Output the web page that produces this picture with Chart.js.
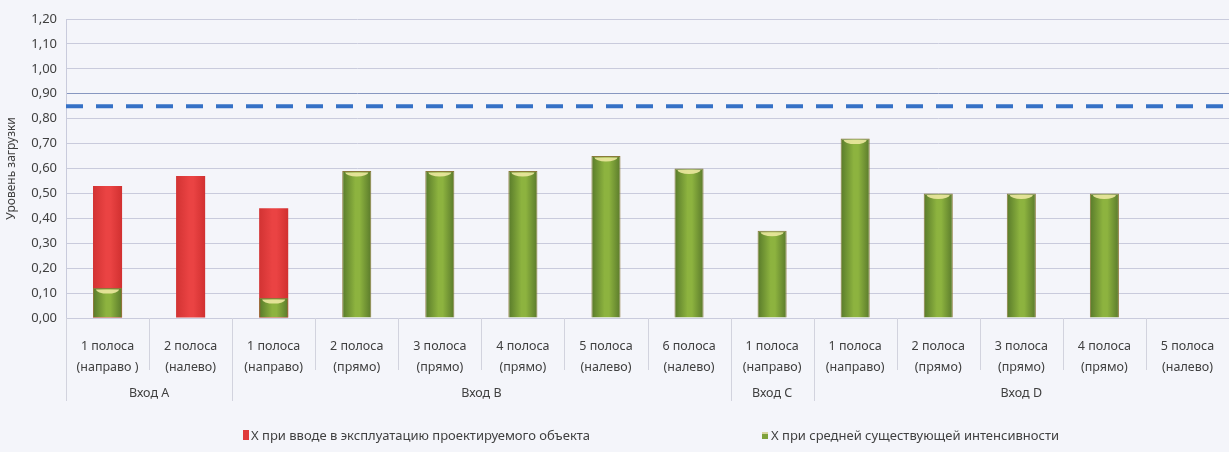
<!DOCTYPE html>
<html>
<head>
<meta charset="utf-8">
<script src="https://cdn.jsdelivr.net/npm/chart.js@4"></script>
<style>
  html, body { margin: 0; padding: 0; background: #f4f5fa; }
  #wrap { width: 1229px; height: 452px; position: relative; }
</style>
</head>
<body>
<div id="wrap"><canvas id="grafico"></canvas></div>
<script>
// полосы по входам
const polosy = [
  ['1 полоса', '(направо )'], ['2 полоса', '(налево)'], ['1 полоса', '(направо)'],
  ['2 полоса', '(прямо)'], ['3 полоса', '(прямо)'], ['4 полоса', '(прямо)'],
  ['5 полоса', '(налево)'], ['6 полоса', '(налево)'], ['1 полоса', '(направо)'],
  ['1 полоса', '(направо)'], ['2 полоса', '(прямо)'], ['3 полоса', '(прямо)'],
  ['4 полоса', '(прямо)'], ['5 полоса', '(налево)']
];
// входы: название, первая полоса, число полос
const vhody = [['Вход А', 0, 2], ['Вход В', 2, 6], ['Вход С', 8, 1], ['Вход D', 9, 5]];

const nazvanieVvod = 'Х при вводе в эксплуатацию проектируемого объекта';
const nazvanieSred = 'Х при средней существующей интенсивности';
const xVvod = [0.53, 0.57, 0.44, null, null, null, null, null, null, null, null, null, null, null];
const xSred = [0.12, null, 0.08, 0.59, 0.59, 0.59, 0.65, 0.60, 0.35, 0.72, 0.50, 0.50, 0.50, null];
const porog = 0.85;   // пунктир
const predel = 0.90;  // сплошная линия

const yMax = 1.2;
const yShag = 0.1;
const shirina = 0.35;
const tekst = '#404040';
const setka = '#c9cbdc';
const shrift = '"Noto Sans", sans-serif';

function zalivka(ctx, cveta, zapas) {
  const chart = ctx.chart;
  if (!chart.chartArea || ctx.dataIndex === undefined) return cveta[1];
  const xs = chart.scales.x;
  const c = xs.getPixelForValue(ctx.dataIndex);
  const w = xs.width / polosy.length * shirina;
  const g = chart.ctx.createLinearGradient(c - w / 2, 0, c + w / 2, 0);
  g.addColorStop(0, cveta[0]);
  g.addColorStop(0.45, cveta[1]);
  g.addColorStop(0.6, cveta[1]);
  g.addColorStop(1, cveta[2]);
  return g;
}

const dorisovka = {
  id: 'dorisovka',
  afterDatasetsDraw(chart) {
    const ctx = chart.ctx;
    const area = chart.chartArea;
    const xs = chart.scales.x;
    const ys = chart.scales.y;

    // светлые торцы зелёных столбиков
    const meta = chart.getDatasetMeta(1);
    meta.data.forEach((el, i) => {
      if (xSred[i] == null) return;
      ctx.save();
      ctx.fillStyle = 'rgba(236, 232, 160, 0.9)';
      ctx.beginPath();
      ctx.ellipse(el.x, el.y + 1.5, el.width / 2 - 3, 4, 0, 0, Math.PI);
      ctx.fill();
      ctx.restore();
    });

    // пунктир на уровне 0,85
    const yp = ys.getPixelForValue(porog);
    ctx.save();
    ctx.strokeStyle = '#3571c6';
    ctx.lineWidth = 4;
    ctx.setLineDash([17, 13]);
    ctx.beginPath();
    ctx.moveTo(area.left, yp);
    ctx.lineTo(area.right, yp);
    ctx.stroke();
    ctx.restore();
  },
  afterDraw(chart) {
    const ctx = chart.ctx;
    const xs = chart.scales.x;
    const step = xs.width / polosy.length;
    const niz = xs.top;

    ctx.save();
    ctx.strokeStyle = '#d2d3de';
    ctx.lineWidth = 1;
    // короткие разделители полос
    for (let i = 0; i <= polosy.length; i++) {
      const x = Math.round(xs.left + i * step) + 0.5;
      ctx.beginPath();
      ctx.moveTo(x, niz);
      ctx.lineTo(x, niz + 52);
      ctx.stroke();
    }
    // длинные разделители входов и подписи
    ctx.fillStyle = tekst;
    ctx.font = '12.5px ' + shrift;
    ctx.textAlign = 'center';
    ctx.textBaseline = 'middle';
    vhody.forEach(([name, start, n]) => {
      [start, start + n].forEach(k => {
        const x = Math.round(xs.left + k * step) + 0.5;
        ctx.beginPath();
        ctx.moveTo(x, niz);
        ctx.lineTo(x, niz + 83);
        ctx.stroke();
      });
      ctx.fillText(name, xs.left + (start + n / 2) * step, niz + 75);
    });

    // легенда
    ctx.font = '13px ' + shrift;
    ctx.textAlign = 'left';
    ctx.fillStyle = '#e03a3a';
    ctx.fillRect(243, 430, 6, 10);
    ctx.fillStyle = tekst;
    ctx.fillText(nazvanieVvod, 251, 436);

    ctx.fillStyle = '#7fa23a';
    ctx.fillRect(762, 432, 6, 7);
    ctx.fillStyle = '#d8d6a0';
    ctx.fillRect(762, 432, 6, 2);
    ctx.fillStyle = tekst;
    ctx.fillText(nazvanieSred, 771, 436);
    ctx.restore();
  }
};

new Chart(document.getElementById('grafico'), {
  type: 'bar',
  data: {
    labels: polosy,
    datasets: [
      {
        label: nazvanieVvod,
        data: xVvod,
        order: 2,
        backgroundColor: ctx => zalivka(ctx, ['#d23333', '#ea4343', '#d13030']),
        borderWidth: 0
      },
      {
        label: nazvanieSred,
        data: xSred,
        order: 1,
        backgroundColor: ctx => zalivka(ctx, ['#587a2a', '#8db33f', '#5a7a2b']),
        borderColor: '#8a7a3a',
        borderWidth: 1
      }
    ]
  },
  options: {
    responsive: true,
    maintainAspectRatio: false,
    animation: false,
    barPercentage: 1,
    categoryPercentage: shirina,
    layout: { padding: { top: 19, right: 0, left: 0, bottom: 0 } },
    plugins: {
      legend: { display: false },
      tooltip: { enabled: false }
    },
    scales: {
      x: {
        stacked: true,
        grid: { display: false },
        border: { display: true, color: setka },
        ticks: {
          autoSkip: false,
          maxRotation: 0,
          padding: 10,
          color: tekst,
          font: { family: shrift, size: 12.5, lineHeight: '21px' }
        },
        afterFit(scale) { scale.height = 134; }
      },
      y: {
        stacked: false,
        min: 0,
        max: yMax,
        border: { display: true, color: setka },
        grid: {
          color: c => Math.abs(c.tick.value - predel) < 1e-6 ? '#8797c0' : setka,
          drawTicks: false
        },
        ticks: {
          stepSize: yShag,
          padding: 9,
          color: tekst,
          font: { family: shrift, size: 13 },
          callback: v => v.toFixed(2).replace('.', ',')
        },
        title: {
          display: true,
          text: 'Уровень загрузки',
          color: tekst,
          padding: { top: 4, bottom: 0 },
          font: { family: shrift, size: 12 }
        },
        afterFit(scale) { scale.width = 66; }
      }
    }
  },
  plugins: [dorisovka]
});
</script>
</body>
</html>
